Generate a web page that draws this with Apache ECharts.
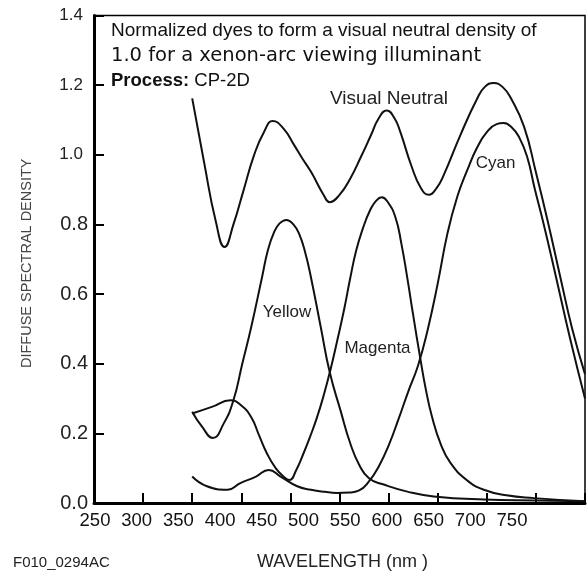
<!DOCTYPE html>
<html><head><meta charset="utf-8">
<script src="https://cdn.jsdelivr.net/npm/echarts@6/dist/echarts.min.js"></script>
<style>html,body{margin:0;padding:0;background:#fff}#c{width:587px;height:576px}</style>
</head><body><div id="c"></div>
<script>
// Tick labels as printed under the axis
const wavelengthLabels = ['250','300','350','400','450','500','550','600','650','700','750'];

// Visual neutral
const neutralWl = [350,362,374,383,392,402,413,423,432,443,454,462,471,484,490,500,511,522,532,540,548,556,562,573,583,591,599,606,623,640,648,657,666,675,688,700,712,725,737,750];
const neutralD  = [1.162,0.98,0.809,0.735,0.80,0.895,0.999,1.065,1.097,1.075,1.027,0.99,0.951,0.884,0.864,0.885,0.932,0.995,1.056,1.105,1.127,1.105,1.065,0.970,0.904,0.885,0.905,0.941,1.056,1.160,1.195,1.206,1.195,1.16,1.08,0.95,0.81,0.647,0.50,0.37];

// Yellow dye
const yellowWl = [350,360,371,382,392,401,410,421,427,433,439,446,453,459,465,471,481,490,501,511,520,530,545,570,596,647,700,750];
const yellowD  = [0.262,0.219,0.187,0.228,0.295,0.40,0.504,0.647,0.725,0.775,0.803,0.813,0.80,0.772,0.72,0.647,0.504,0.376,0.266,0.171,0.11,0.071,0.053,0.032,0.019,0.010,0.007,0.005];

// Magenta dye
const magentaWl = [350,370,389,400,410,418,426,435,443,449,456,463,470,477,484,491,498,505,511,517,524,531,537,543,549,557,563,569,575,582,588,594,603,613,630,647,670,698,750];
const magentaD  = [0.257,0.276,0.295,0.28,0.247,0.195,0.143,0.10,0.076,0.066,0.095,0.14,0.19,0.245,0.31,0.385,0.47,0.56,0.647,0.725,0.79,0.84,0.867,0.878,0.865,0.82,0.745,0.647,0.54,0.42,0.325,0.25,0.17,0.115,0.065,0.038,0.022,0.014,0.005];

// Cyan dye
const cyanWl = [350,365,386,399,415,428,440,457,471,485,497,510,520,530,540,550,560,570,580,590,600,610,620,630,640,650,660,667,675,683,691,699,708,720,735,750];
const cyanD  = [0.076,0.048,0.038,0.057,0.076,0.095,0.076,0.048,0.038,0.032,0.029,0.03,0.036,0.062,0.105,0.165,0.24,0.32,0.395,0.50,0.63,0.775,0.88,0.955,1.02,1.065,1.088,1.091,1.08,1.05,0.995,0.90,0.80,0.655,0.47,0.30];

const pairs = (xs, ys) => xs.map((x, i) => [x, ys[i]]);
const lineStyle = { color: '#111', width: 2 };
const mk = (name, xs, ys) => ({
  name, type: 'line', xAxisIndex: 0, yAxisIndex: 0, data: pairs(xs, ys),
  smooth: 0.5, showSymbol: false, symbol: 'none', lineStyle, silent: true, z: 3
});

const chart = echarts.init(document.getElementById('c'), null, { renderer: 'canvas' });
chart.setOption({
  animation: false,
  backgroundColor: '#fff',
  grid: [
    { left: 94, right: 2, top: 15.5, bottom: 69.3, show: true, borderColor: '#000', borderWidth: 1.5 },
    { left: 95, right: 75, top: 15.5, bottom: 69.3 }
  ],
  xAxis: [
    { type: 'value', gridIndex: 0, min: 250, max: 750, interval: 50,
      name: 'WAVELENGTH (nm )', nameLocation: 'middle', nameGap: 50,
      nameTextStyle: { fontFamily: 'Liberation Sans', fontSize: 18, color: '#222', padding: [0, 0, 0, 6] },
      axisLine: { show: true, onZero: false, lineStyle: { color: '#000', width: 3 } },
      axisTick: { show: true, inside: true, length: 10, lineStyle: { color: '#000', width: 2 } },
      axisLabel: { show: false }, splitLine: { show: false } },
    { type: 'category', gridIndex: 1, data: wavelengthLabels, boundaryGap: false,
      axisLine: { show: false }, axisTick: { show: false }, splitLine: { show: false },
      axisLabel: { show: true, interval: 0, margin: 5, fontFamily: 'Liberation Sans', fontSize: 18.5, color: '#111' } }
  ],
  yAxis: [
    { type: 'value', gridIndex: 0, min: 0, max: 1.4, interval: 0.2,
      name: 'DIFFUSE SPECTRAL DENSITY', nameLocation: 'middle', nameRotate: 90, nameGap: 60,
      nameTextStyle: { fontFamily: 'Liberation Sans', fontSize: 14.5, color: '#444', padding: [0, 8, 0, 0] },
      axisLine: { show: true, onZero: false, lineStyle: { color: '#000', width: 3 } },
      axisTick: { show: true, inside: true, length: 10, lineStyle: { color: '#000', width: 2 } },
      axisLabel: { margin: 6, fontFamily: 'Liberation Sans', fontSize: 20, color: '#222',
        formatter: v => v >= 1 ? '{n|' + v.toFixed(1) + '}' : v.toFixed(1),
        rich: { n: { fontFamily: 'Liberation Sans', fontSize: 17, color: '#222', padding: [0, 5, 0, 0] } } },
      splitLine: { show: false } },
    { type: 'value', gridIndex: 1, show: false, min: 0, max: 1.4 }
  ],
  series: [
    mk('Visual Neutral', neutralWl, neutralD),
    mk('Yellow', yellowWl, yellowD),
    mk('Magenta', magentaWl, magentaD),
    mk('Cyan', cyanWl, cyanD)
  ],
  graphic: [
    { type: 'text', left: 111, top: 21, style: { text: 'Normalized dyes to form a visual neutral density of', fontFamily: 'Liberation Sans', fontSize: 19, fill: '#111' } },
    { type: 'text', left: 111, top: 46, style: { text: '1.0 for a xenon-arc viewing illuminant', fontFamily: 'DejaVu Sans', fontSize: 19.5, fill: '#111' } },
    { type: 'text', left: 111, top: 71, style: { text: '{b|Process:} CP-2D', fontFamily: 'Liberation Sans', fontSize: 18.5, fill: '#111',
        rich: { b: { fontFamily: 'Liberation Sans', fontSize: 18.5, fontWeight: 'bold', fill: '#111' } } } },
    { type: 'text', x: 389, y: 99, style: { text: 'Visual Neutral', fontFamily: 'Liberation Sans', fontSize: 19, fill: '#222', align: 'center', verticalAlign: 'middle' } },
    { type: 'text', x: 495.5, y: 163, style: { text: 'Cyan', fontFamily: 'Liberation Sans', fontSize: 17, fill: '#222', align: 'center', verticalAlign: 'middle' } },
    { type: 'text', x: 287, y: 312, style: { text: 'Yellow', fontFamily: 'Liberation Sans', fontSize: 17, fill: '#222', align: 'center', verticalAlign: 'middle' } },
    { type: 'text', x: 377.5, y: 348, style: { text: 'Magenta', fontFamily: 'Liberation Sans', fontSize: 17, fill: '#222', align: 'center', verticalAlign: 'middle' } },
    { type: 'text', x: 13, y: 563, style: { text: 'F010_0294AC', fontFamily: 'Liberation Sans', fontSize: 15, fill: '#222', align: 'left', verticalAlign: 'middle' } }
  ]
});
</script></body></html>
